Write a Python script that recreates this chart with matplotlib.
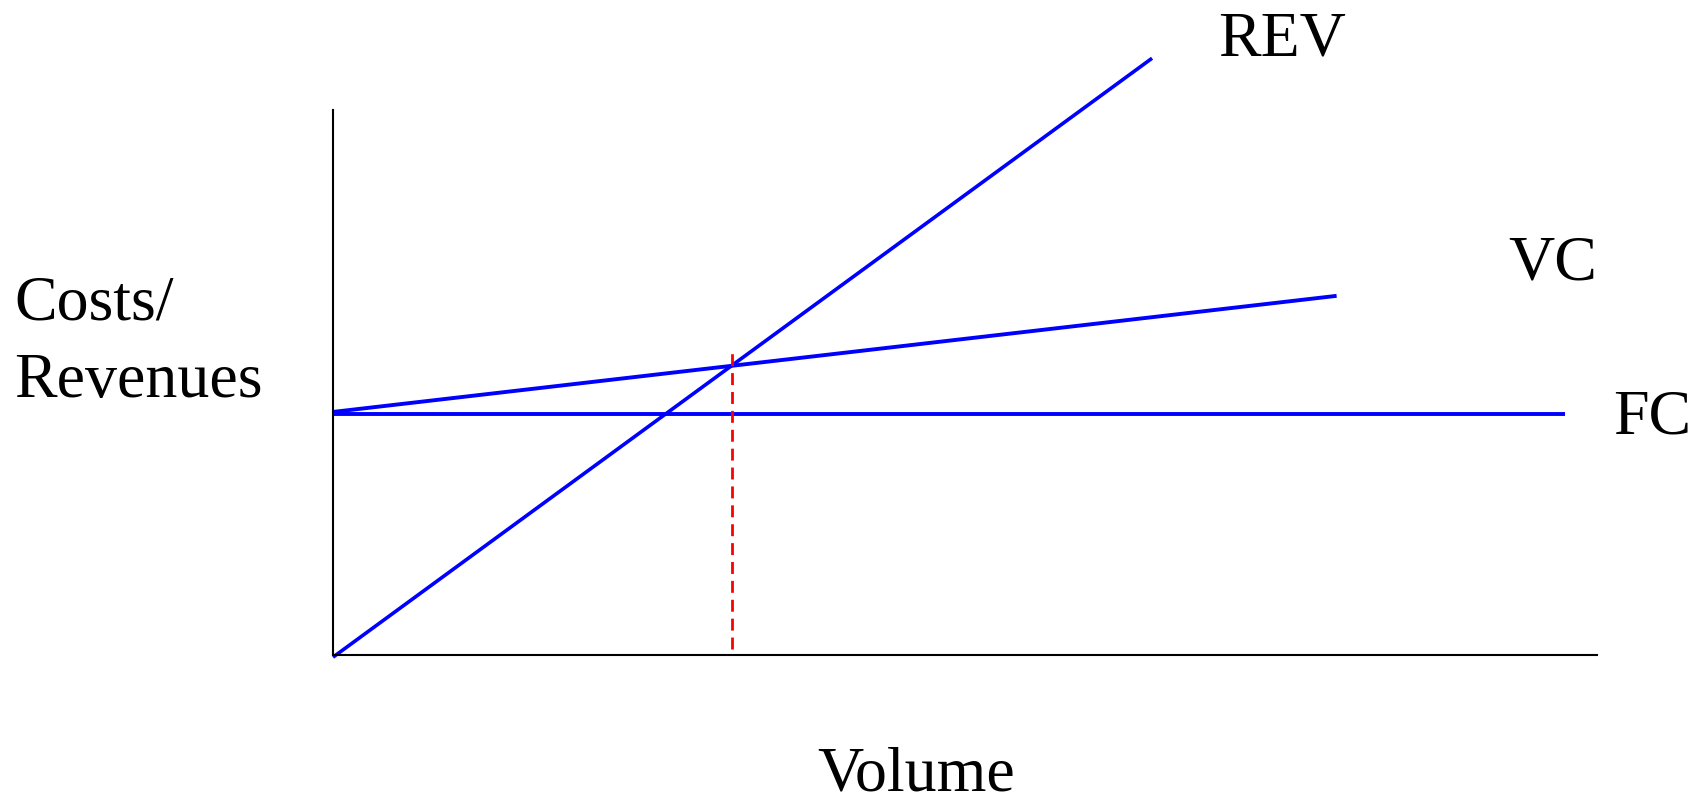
import matplotlib
matplotlib.use('Agg')
import matplotlib.pyplot as plt

# break-even chart, volume on x (0..100), costs/revenues on y (0..100)
fc_x = [0, 97.5]
fc_y = [44.2, 44.2]
vc_x = [0, 79.4]
vc_y = [44.6, 65.9]
rev_x = [0, 64.8]
rev_y = [-0.4, 109.5]
breakeven_x = [31.6, 31.6]
breakeven_y = [1.1, 55.8]

plt.rcParams['font.family'] = ['Liberation Serif', 'DejaVu Serif']

fig = plt.figure(figsize=(17.06, 8.04), dpi=100)
ax = fig.add_axes([333 / 1706, (804 - 656) / 804, 1264 / 1706, 545 / 804])
ax.set_xlim(0, 100)
ax.set_ylim(0, 100)

blue = '#0000ff'
ax.plot(fc_x, fc_y, color=blue, lw=2.8, clip_on=False, solid_capstyle='butt')
ax.plot(vc_x, vc_y, color=blue, lw=2.8, clip_on=False, solid_capstyle='butt')
ax.plot(rev_x, rev_y, color=blue, lw=2.6, clip_on=False, solid_capstyle='butt')
ax.plot(breakeven_x, breakeven_y, color='#ff0000', lw=2, dashes=(4.3, 2.5), clip_on=False)

# only left and bottom axis lines, no ticks
for side in ['top', 'right']:
    ax.spines[side].set_visible(False)
for side in ['left', 'bottom']:
    ax.spines[side].set_linewidth(1.5)
ax.set_xticks([])
ax.set_yticks([])

fs = 46
ax.text(70.0, 110.1, 'REV', fontsize=fs, va='baseline', ha='left', clip_on=False)
ax.text(93.0, 69.0, 'VC', fontsize=fs, va='baseline', ha='left', clip_on=False)
ax.text(101.3, 40.9, 'FC', fontsize=fs, va='baseline', ha='left', clip_on=False)
ax.text(-25.2, 61.7, 'Costs/', fontsize=fs, va='baseline', ha='left', clip_on=False)
ax.text(-25.2, 47.5, 'Revenues', fontsize=fs, va='baseline', ha='left', clip_on=False)
ax.text(46.1, -24.6, 'Volume', fontsize=fs, va='baseline', ha='center', clip_on=False)

fig.savefig('out.png', dpi=100)
